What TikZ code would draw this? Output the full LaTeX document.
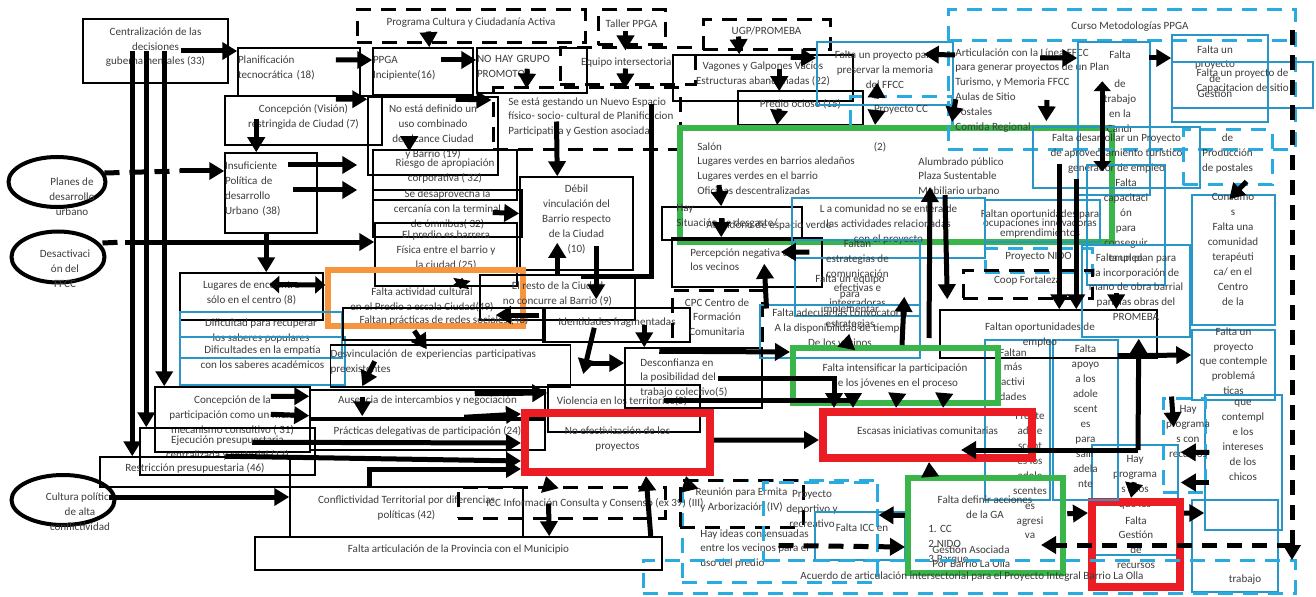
\documentclass[tikz,border=0pt]{standalone}
\usepackage{fontspec}
\setmainfont{Carlito}
\usetikzlibrary{arrows.meta,calc,fit,shapes.geometric}

\definecolor{pred}{RGB}{236,28,36}
\definecolor{pgreen}{RGB}{57,181,74}
\definecolor{porange}{RGB}{247,148,62}
\definecolor{pblue}{RGB}{41,150,200}
\definecolor{pcyan}{RGB}{41,171,226}
\definecolor{ink}{RGB}{60,60,60}

\tikzset{
  box/.style={draw, line width=0.3mm, inner sep=0pt, align=center},
  bluebox/.style={draw=pblue, line width=0.3mm, inner sep=0pt, align=center},
  dashbox/.style={draw, line width=0.6mm, dash pattern=on 3mm off 2mm, inner sep=0pt, align=center},
  dashblue/.style={draw=pcyan, line width=0.6mm, dash pattern=on 3mm off 2mm, inner sep=0pt, align=center},
  redframe/.style={draw=pred, line width=1.6mm, inner sep=0pt, align=center},
  greenframe/.style={draw=pgreen, line width=1.2mm, inner sep=0pt, align=center},
  orangeframe/.style={draw=porange, line width=1.1mm, inner sep=0pt, align=center},
  oval/.style={ellipse, draw, line width=0.8mm, inner sep=0pt},
  lbl/.style={inner sep=0pt, align=center},
  arr/.style={line width=1mm, -{Triangle[length=3mm,width=3.4mm]}},
  dblarr/.style={line width=1mm, {Triangle[length=2mm,width=3.4mm]}-{Triangle[length=2mm,width=3.4mm]}},
  dashln/.style={line width=1mm, dash pattern=on 3mm off 2mm},
  dasharr/.style={arr, dash pattern=on 3mm off 2mm},
}

\begin{document}
\begin{tikzpicture}[x=0.2mm, y=-0.2mm, text=ink, font=\fontsize{6.3}{8.5}\selectfont]
  \useasboundingbox (0,0) rectangle (1316,597);

  % Left column
  \node[box, fit={(83,19) (228,83)}] (centr) {Centralización de las\\decisiones\\gubernamentales (33)};
  \node[box, fit={(238,48) (360,96)}, align=left] (planif) {Planificación\\tecnocrática (18)};
  \node[box, fit={(225,96) (382,145)}] (concep) {Concepción (Visión)\\restringida de Ciudad (7)};
  \node[box, fit={(225,153) (317,233)}, align=left] (insuf) {Insuficiente\\Política de\\desarrollo\\Urbano (38)};
  \node[oval, minimum width=19.4mm, minimum height=10mm] (planes) at (57,182) {};
  \node[lbl] (planeslbl) at (72,197) {Planes de\\desarrollo\\urbano};
  \node[oval, minimum width=18.6mm, minimum height=10.2mm] (desact) at (58,257) {};
  \node[lbl] (desactlbl) at (65,269) {Desactivaci\\ón del\\FFCC};
  \node[oval, minimum width=20.6mm, minimum height=10mm] (cultura) at (63,500) {};
  \node[lbl] (culturalbl) at (80,512) {Cultura política\\de alta\\conflictividad};

  % Top middle
  \node[dashbox, fit={(357,10) (585,43)}] (progcult) {Programa Cultura y Ciudadanía Activa};
  \node[dashbox, fit={(598,10) (665,45)}] (taller) {Taller PPGA};
  \node[box, fit={(373,48) (473,95)}, align=left] (ppga) {PPGA\\Incipiente(16)};
  \node[box, fit={(477,48) (587,93)}, align=left] (nohay) {NO HAY GRUPO\\PROMOTOR};
  \node[dashbox, fit={(560,48) (695,85)}] (equipo) {Equipo intersectorial};
  \node[dashbox, fit={(493,88) (680,150)}] (gestando) {};
  \node[lbl, align=left, anchor=north west] (gestandolbl) at (508,97) {Se está gestando un Nuevo Espacio\\físico- socio- cultural de Planificacion\\Participativa y Gestion asociada};
  \node[box, fit={(368,97) (498,175)}] (noesta) {No está definido un\\uso combinado\\de alcance Ciudad\\y Barrio (19)};
  \node[box, fit={(373,150) (517,200)}] (riesgo) {Riesgo de apropiación\\corporativa ( 32)};
  \node[box, fit={(373,190) (522,237)}] (desap) {Se desaprovecha la\\cercanía con la terminal\\de ómnibus( 32)};
  \node[box, fit={(375,223) (517,286)}] (barrera) {El predio es barrera\\Física entre el barrio y\\la ciudad (25)};
  \node[box, fit={(520,177) (633,270)}] (debil) {Débil\\vinculación del\\Barrio respecto\\de la Ciudad\\(10)};

  % Top right
  \node[dashbox, fit={(703,20) (830,50)}] (ugp) {UGP/PROMEBA};
  \node[box, fit={(673,55) (853,101)}] (vagones) {Vagones y Galpones Vacíos\\Estructuras abandonadas (22)};
  \node[box, fit={(738,91) (863,125)}] (ocioso) {Predio ocioso (15)};
  \node[bluebox, fit={(817,42) (953,105)}] (memoria) {Falta un proyecto para\\preservar la memoria\\del FFCC};
  \node[dashblue, fit={(850,97) (952,130)}] (proycc) {Proyecto CC};
  \node[greenframe, fit={(680,128) (1112,242)}] (verde) {};
  \node[lbl, align=left, anchor=north west] (verdeA) at (697,142) {Salón\\Lugares  verdes en barrios aledaños\\Lugares verdes en el barrio\\Oficinas descentralizadas};
  \node[lbl, anchor=north] (verdeN) at (880,142) {(2)};
  \node[lbl, align=left, anchor=north west] (verdeB) at (918,157) {Alumbrado público\\Plaza Sustentable\\Mobiliario urbano};

  \node[dashblue, fit={(948,10) (1295,150)}] (curso) {};
  \draw[dashblue] ($(curso.north west)+(0,32)$) -- ($(curso.north east)+(0,32)$);
  \node[lbl] (cursotit) at (1130,27) {Curso Metodologías PPGA};
  \node[lbl, align=left, anchor=north west] (artext) at (955,48) {Articulación con la Línea FFCC\\para generar proyectos de un Plan\\Turismo, y Memoria FFCC\\Aulas de Sitio\\Postales\\Comida Regional};
  \node[bluebox, fit={(1078,42) (1150,195)}] (plantrab) {};
  \node[lbl, anchor=north] (plantrablbl) at (1120,50) {Falta\\[8.5pt]de\\trabajo\\en la\\Candr};
  \node[bluebox, fit={(1172,35) (1268,122)}] (gestion) {};
  \node[lbl, anchor=north] (gestionlbl) at (1215,45) {Falta un\\proyecto\\de\\Gestión};
  \node[bluebox, fit={(1172,62) (1313,108)}] (capsitio) {Falta un proyecto de\\Capacitacion de sitio};
  \node[bluebox, fit={(1033,127) (1200,188)}] (turistico) {Falta desarrollar un Proyecto\\de aprovechamiento turístico\\generador de empleo};
  \node[dashblue, fit={(1183,130) (1272,185)}] (postales) {de\\Producción\\de postales};
  \node[bluebox, fit={(1087,165) (1165,285)}] (capacit) {Falta\\capacitaci\\ón\\para\\conseguir\\empleo};

  % Right column
  \node[bluebox, fit={(1192,195) (1275,325)}] (terap) {};
  \node[lbl, anchor=north] (teraplbl) at (1233,193) {Consumo\\s\\Falta una\\comunidad\\terapéuti\\ca/ en el\\Centro\\de la};
  \node[bluebox, fit={(1192,330) (1275,400)}] (contempla) {Falta un\\proyecto\\que contemple\\problemá\\ticas};
  \node[bluebox, fit={(1205,395) (1282,530)}] (intereses) {};
  \node[lbl, anchor=north] (intereseslbl) at (1243,400) {que\\contempl\\e los\\intereses\\de los\\chicos};
  \node[bluebox, fit={(1192,500) (1278,592)}] (trabajo) {};
  \node[lbl] (trabajolbl) at (1245,580) {trabajo};
  \node[dashblue, fit={(1163,398) (1205,492)}] (progrec) {};
  \node[lbl, anchor=north] (progreclbl) at (1188,405) {Hay\\programa\\s con\\recursos};
  \node[bluebox, fit={(1092,445) (1178,555)}] (hayprog) {};
  \node[lbl, anchor=north] (hayproglbl) at (1135,455) {Hay\\programa\\s a los\\que les};
  \node[redframe, fit={(1092,502) (1180,587)}] (gestrec) {};
  \node[lbl, anchor=north] (gestreclbl) at (1136,516) {Falta\\Gestión\\de\\recursos};
  \node[bluebox, fit={(1053,340) (1118,500)}] (apoyo) {Falta\\apoyo\\a los\\adole\\scent\\es\\para\\salir\\adela\\nte};
  \node[bluebox, fit={(985,340) (1050,500)}] (masact) {};
  \node[lbl, anchor=north] (masactlbl) at (1013,348) {Faltan\\más\\activi\\dades};
  \node[lbl, anchor=north] (frentelbl) at (1030,412) {Frente\\adole\\scent\\es los\\adole\\scentes\\es\\agresi\\va};
  \node[box, fit={(940,310) (1157,358)}] (empleo) {};
  \node[lbl] (empleolbl) at (1040,335) {Faltan oportunidades de\\empleo};
  \node[bluebox, fit={(1082,245) (1190,337)}] (planobra) {Falta un plan para\\la incorporación de\\mano de obra barrial\\para las obras del\\PROMEBA};
  \node[bluebox, fit={(985,200) (1100,242)}] (ocupac) {};
  \node[lbl] (ocupaclbl) at (1040,224) {Faltan oportunidades para\\[-3pt]ocupaciones innovadoras\\[-3pt]emprendimientos};
  \node[dashblue, fit={(985,248) (1092,272)}] (nido) {Proyecto NIDO};
  \node[dashbox, fit={(963,270) (1092,298)}] (coop) {Coop Fortaleza};

  % Middle rows
  \node[box, fit={(180,273) (323,320)}] (lugares) {Lugares de encuentro\\sólo en el centro (8)};
  \node[orangeframe, fit={(328,270) (523,326)}] (actcult) {};
  \node[lbl] (actcultlbl) at (422,300) {Falta actividad cultural\\en el Predio a escala Ciudad(49)};
  \node[box, fit={(480,275) (635,320)}] (resto) {El resto de la Ciudad\\no concurre al Barrio (9)};
  \node[bluebox, fit={(180,312) (342,358)}] (saberes) {Dificultad para recuperar\\los saberes  populares};
  \node[bluebox, fit={(180,337) (345,385)}] (empatia) {Dificultades en la empatía\\con los saberes académicos};
  \node[box, fit={(343,308) (545,340)}] (redes) {Faltan prácticas de redes sociales (48)};
  \node[box, fit={(543,308) (690,342)}] (identid) {};
  \node[lbl] (identidlbl) at (617,323) {Identidades fragmentadas};
  \node[box, fit={(318,345) (583,387)}, text width=48mm, align=left] (desvinc) {Desvinculación de experiencias participativas\\preexistentes};
  \node[box, fit={(155,387) (310,452)}] (conceppart) {Concepción de la\\participación como un mero\\mecanismo consultivo ( 31)};
  \node[box, fit={(140,428) (315,475)}] (ejec) {Ejecución presupuestaria\\centralizada y sectorial (17)};
  \node[box, fit={(100,457) (290,487)}] (restric) {Restricción presupuestaria (46)};
  \node[box, fit={(310,390) (545,418)}] (ausencia) {Ausencia de intercambios y negociación};
  \node[box, fit={(310,420) (545,450)}] (delegat) {Prácticas delegativas de participación (24)};
  \node[box, fit={(548,385) (700,432)}] (violencia) {};
  \node[lbl] (violencialbl) at (622,401) {Violencia en los territorios(5)};
  \node[box, fit={(625,348) (762,408)}] (desconf) {};
  \node[lbl, align=left, anchor=north west] (desconflbl) at (640,358) {Desconfianza en\\la posibilidad del\\trabajo colectivo(5)};
  \node[redframe, fit={(525,413) (710,472)}] (noefect) {No efectivización de los\\proyectos};

  \node[box, fit={(662,207) (802,240)}] (desgaste) {};
  \node[lbl, align=left, anchor=north west] (desgastelbl) at (676,204) {Hay\\Situación de desgaste/};
  \node[lbl, anchor=west] (abandlbl) at (706,226) {Abandono de espacio verde};
  \node[box, fit={(672,238) (822,287)}] (percep) {};
  \node[lbl, align=left, anchor=north west] (perceplbl) at (690,248) {Percepción negativa de\\los vecinos};
  \node[dashbox, fit={(672,290) (762,352)}] (cpc) {CPC Centro de\\Formación\\Comunitaria};
  \node[bluebox, fit={(792,198) (985,258)}] (enteran) {L a comunidad no se entera de\\las actividades relacionadas\\con el proyecto};
  \node[bluebox, fit={(795,240) (920,316)}] (estrateg) {Faltan\\estrategias de\\comunicación\\efectivas e\\integradoras};
  \node[lbl] (impllbl) at (850,302) {Falta un equipo\\para\\implementar\\estrategias};
  \node[bluebox, fit={(760,305) (920,358)}] (adecuar) {Falta adecuar las convocatoria\\A la disponibilidad de tiempo\\De los vecinos};
  \node[greenframe, fit={(793,348) (998,403)}] (intensif) {};
  \node[lbl] (intensiflbl) at (895,376) {Falta intensificar la participación\\de los jóvenes en el proceso};
  \node[redframe, fit={(823,412) (1032,458)}] (escasas) {Escasas iniciativas comunitarias};

  % Bottom
  \node[box, fit={(290,487) (523,537)}] (conflict) {Conflictividad Territorial por diferencias\\políticas (42)};
  \node[dashbox, fit={(458,487) (665,518)}] (icc) {};
  \node[lbl] (icclbl) at (595,503) {ICC Información Consulta y Consenso (ex 39) (III)};
  \node[box, fit={(255,537) (662,570)}] (provincia) {Falta articulación de la Provincia con el Municipio};
  \node[dashblue, fit={(682,480) (877,582)}] (ideas) {};
  \node[lbl, align=left, anchor=north west] (ideaslbl) at (700,529) {Hay ideas consensuadas\\entre los vecinos para el\\uso del predio};
  \node[dashbox, fit={(680,480) (803,527)}] (reunion) {Reunión para Ermita\\y Arborización (IV)};
  \node[dashblue, fit={(763,482) (877,560)}] (deportivo) {};
  \node[lbl, anchor=north] (deportivolbl) at (812,490) {Proyecto\\deportivo y\\recreativo};
  \node[bluebox, fit={(815,512) (905,560)}] (faltaicc) {};
  \node[lbl] (faltaicclbl) at (862,528) {Falta ICC en};
  \node[greenframe, fit={(908,478) (1063,573)}] (definir) {};
  \node[lbl] (definirlbl) at (985,507) {Falta definir acciones\\de la GA};
  \node[lbl, align=left, anchor=north west] (definirA) at (928,525) {1. CC\\2.NIDO\\3.Parque};
  \node[lbl, align=left, anchor=north west] (definirB) at (932,545) {Gestión Asociada\\Por Barrio La Olla};
  \node[dashblue, fit={(643,560) (1295,593)}] (acuerdo) {};
  \node[lbl] (acuerdolbl) at (972,577) {Acuerdo de articulación intersectorial para el Proyecto Integral Barrio La Olla};

  % Connectors, left part
  \draw[arr] ($(centr.east)+(-48,0)$) -- (planif.west |- centr.east);
  \draw[arr] ($(centr.west)+(50,0)$) -- ($(restric.north west)+(33,0)$);
  \draw[arr] ($(centr.west)+(64,0)$) -- ($(ejec.north west)+(7,0)$);
  \draw[arr] ($(centr.west)+(82,0)$) -- ($(conceppart.north west)+(10,0)$);
  \coordinate (jmpA) at (180,171);
  \draw[dashln] ($(planes.east)+(-3,-9)$) -- (jmpA);
  \draw[arr] (jmpA) -- (insuf.west |- jmpA);
  \coordinate (jmpB) at (125,242);
  \draw[dashln] ($(desact.east)+(-4,-14)$) -- (jmpB);
  \draw[arr] (jmpB) -- (barrera.west |- jmpB);
  \draw[arr] ($(planif.east)+(-25,-12)$) -- ($(ppga.west)+(0,-11.5)$);
  \draw[arr] ($(ppga.east)+(-33,-11.5)$) -- ($(nohay.west)+(0,-10.5)$);
  \draw[arr] ($(progcult.south west)+(73,-13)$) -- ($(ppga.north west)+(57,0)$);
  \draw[arr] ($(taller.south)+(-6,-15)$) -- ($(equipo.north)+(-2,4)$);
  \draw[arr] ($(equipo.south)+(-2,-18)$) -- ($(gestando.north)+(38.5,2)$);
  \draw[arr] ($(nohay.south west)+(51,-25)$) -- ($(gestando.north west)+(35,2)$);
  \draw[arr] ($(concep.north east)+(-47,4)$) -- ($(noesta.north west)+(0,3)$);
  \draw[arr] ($(concep.south west)+(32,-27)$) -- ($(insuf.north west)+(32,0)$);
  \draw[arr] ($(insuf.east)+(-30,-28)$) -- ($(noesta.west)+(-10,29)$);
  \draw[arr] ($(insuf.east)+(-25,-3)$) -- ($(riesgo.west)+(-15,15)$);
  \draw[arr] ($(noesta.south west)+(42,-40)$) -- ($(riesgo.north west)+(37,2)$);
  \draw[arr] ($(noesta.north east)+(-43,3)$) -- ($(gestando.west)+(0,-19)$);
  \draw[arr] ($(gestando.south west)+(65,-30)$) -- ($(debil.north west)+(38,0)$);
  \draw[arr] ($(desap.east)+(-30,-1)$) -- (debil.west |- desap.east);
  \draw[arr] ($(resto.north west)+(78,0)$) -- ($(debil.south west)+(38,-28)$);
  \draw[arr] ($(debil.south west)+(77,-25)$) -- ($(resto.north west)+(117,25)$);
  \draw[line width=1mm] ($(gestando.east)+(-30,-15)$) |- ($(resto.north west)+(102,2)$);
  \draw[arr] ($(insuf.south west)+(42,0)$) -- ($(lugares.north west)+(87,0)$);
  \draw[dblarr] ($(barrera.south west)+(88,-9)$) -- ($(actcult.north west)+(135,22)$);
  \draw[dblarr] ($(lugares.west)+(90,-12)$) -- ($(actcult.west)+(0,-13)$);
  \draw[arr] ($(resto.west)+(60,17.5)$) -- ($(actcult.east)+(-30,17)$);
  \draw[arr] ($(redes.south west)+(72,-10)$) -- ($(desvinc.north west)+(97,5)$);
  \draw[arr] ($(desvinc.north west)+(45,17)$) -- ($(ausencia.north west)+(53,-3)$);
  \draw[arr] ($(ausencia.north west)+(53,8)$) -- ($(delegat.north west)+(53,-3)$);
  \draw[arr] ($(identid.south west)+(52,-15)$) -- ($(desvinc.east)+(12,8)$);
  \draw[arr] ($(identid.south west)+(102,-18)$) -- ($(desconf.north west)+(20,0)$);
  \draw[arr] ($(desvinc.east)+(20,-3)$) -- ($(desconf.west)+(0,-15)$);
  \draw[arr] ($(desvinc.south west)+(145,6)$) -- ($(violencia.west)+(0,-15.5)$);
  \draw[arr] ($(conceppart.north east)+(-40,10)$) -- ($(ausencia.north west)+(0,7)$);
  \draw[arr] ($(conceppart.north east)+(-40,28)$) -- ($(ausencia.south west)+(0,-3)$);
  \draw[arr] ($(ejec.north west)+(113,15)$) -- ($(noefect.west)+(0,0.5)$);
  \draw[arr] ($(ejec.north west)+(86,29)$) -- ($(noefect.south west)+(0,-15)$);
  \draw[arr] ($(delegat.north west)+(155,-2)$) -- ($(noefect.north west)+(0,5)$);
  \draw[arr] ($(conflict.north west)+(80,0)$) |- ($(noefect.south west)+(0,-7)$);
  \draw[arr] ($(cultura.east)+(-8,-3)$) -- ($(conflict.west)+(0,-15)$);
  \draw[arr] ($(icc.north west)+(92,0)$) -- ($(noefect.south west)+(25,0)$);
  \draw[arr] ($(icc.north west)+(92,18)$) -- ($(provincia.north west)+(295,0)$);
  \draw[arr] ($(provincia.north east)+(-12,0)$) -- ($(noefect.south west)+(125,0)$);

  % Connectors, right part
  \draw[arr] ($(ugp.south west)+(37,-15)$) -- ($(vagones.north west)+(67,0)$);
  \draw[arr] ($(vagones.north east)+(-63,3)$) -- ($(memoria.west)+(0,-15.5)$);
  \draw[arr] ($(vagones.north west)+(107,15)$) -- ($(ocioso.north west)+(42,1)$);
  \draw[arr] ($(ocioso.south west)+(42,-17)$) -- ($(verde.north west)+(100,0)$);
  \draw[arr] ($(proycc.north west)+(28,3)$) -- ($(memoria.south west)+(61,-23)$);
  \draw[arr] ($(proycc.north west)+(28,15)$) -- ($(verde.north west)+(198,0)$);
  \draw[arr] ($(artext.north west)+(0,7)$) -- ($(memoria.north east)+(-30,13)$);
  \draw[arr] ($(memoria.north east)+(2,58)$) -- ($(verde.north west)+(275,-3)$);
  \draw[arr] ($(artext.north west)+(85,10)$) -- ($(plantrab.west)+(0,-60.5)$);
  \draw[arr] ($(plantrab.east)+(-2,-60.5)$) -- ($(gestion.west)+(0,-20.5)$);
  \draw[arr] ($(artext.north west)+(92,52)$) -- ($(turistico.north west)+(14,-5)$);
  \draw[dblarr] ($(plantrab.north west)+(25,40)$) -- ($(turistico.north west)+(70,45)$);
  \draw[arr] ($(postales.south)+(19,-5)$) -- ($(terap.north west)+(38,5)$);
  \draw[arr] ($(verde.north west)+(42,60)$) -- ($(desgaste.north west)+(60,0)$);
  \draw[arr] ($(desgaste.north west)+(60,12)$) -- ($(percep.north west)+(50,0)$);
  \draw[arr] ($(cpc.north east)+(3,20)$) -- ($(percep.south west)+(93,-24)$);
  \draw[arr] ($(enteran.west)+(18,24)$) -- ($(percep.east)+(-42,-10.5)$);
  \draw[arr] ($(escasas.north west)+(110,-70)$) -- ($(verde.north west)+(253,62)$);
  \draw[arr] ($(verde.north west)+(268,70)$) -- ($(empleo.north west)+(8,-10)$);
  \draw[arr] ($(intensif.north west)+(112,0)$) -- ($(estrateg.south west)+(110,-20)$);
  \draw[arr] ($(intensif.north west)+(57,0)$) -- ($(adecuar.south west)+(90,-25)$);
  \draw[arr] ($(desconf.north west)+(35,4)$) -- ($(intensif.west)+(0,-23.5)$);
  \draw[arr] ($(desconf.east)+(-45,0)$) -| ($(escasas.north west)+(15,0)$);
  \draw[arr] ($(desconf.south west)+(40,-8)$) -| ($(escasas.north west)+(34,0)$);
  \draw[arr] ($(intensif.south west)+(107,-10)$) -- ($(escasas.north west)+(77,0)$);
  \draw[arr] ($(intensif.south west)+(154,-10)$) -- ($(escasas.north west)+(124,0)$);
  \draw[arr] ($(noefect.east)+(0,-2.5)$) -- ($(escasas.west)+(0,5)$);
  \draw[arr] ($(definir.north west)+(25,0)$) -- ($(escasas.south west)+(110,0)$);
  \draw[arr] ($(reunion.north west)+(10,8)$) -- ($(noefect.south west)+(165,0)$);
  \draw[dasharr] ($(ideas.north west)+(98,67)$) -- ($(definir.west)+(0,21.5)$);
  \draw[arr] ($(definir.west)+(0,-10)$) -- ($(deportivo.east)+(0,-6)$);
  \draw[arr] ($(turistico.south west)+(27,-25)$) -- ($(empleo.north west)+(120,0)$);
  \draw[arr] ($(turistico.south west)+(44,-10)$) -- ($(empleo.north west)+(137,0)$);
  \draw[arr] ($(planobra.south west)+(35,-45)$) -- ($(empleo.north west)+(177,0)$);
  \draw[arr] ($(empleo.south east)+(-40,-3)$) -- ($(contempla.west)+(0,-10)$);
  \coordinate (junc) at (1138,450);
  \draw[arr] (junc) -- ($(empleo.south east)+(-19,-20)$);
  \draw[arr] (junc) -- ($(escasas.east)+(-75,15)$);
  \draw[arr] ($(apoyo.south west)+(15,13)$) -- ($(gestrec.west)+(0,-31.5)$);
  \draw[arr] ($(gestrec.east)+(0,-31.5)$) -- ($(intereses.west)+(0,50.5)$);
  \draw[arr] ($(progrec.north west)+(10,0)$) -- ($(hayprog.north east)+(-5,-17)$);
  \draw[arr] ($(intereses.west)+(5,-10)$) -- ($(hayprog.north east)+(2,8)$);
  \draw[arr] ($(intereses.west)+(5,20)$) -- ($(hayprog.east)+(2,-17.5)$);
  \draw[arr] ($(hayprog.north west)+(43,38)$) -- ($(gestrec.north west)+(43,0)$);
  \coordinate (rtop) at (1292,30);
  \coordinate (rbot) at (1292,560);
  \draw[dasharr] (rtop) -- (rbot);
  \draw[dasharr] ($(rtop)+(0,515)$) -- ($(definir.east)+(-25,19.5)$);
\end{tikzpicture}
\end{document}
